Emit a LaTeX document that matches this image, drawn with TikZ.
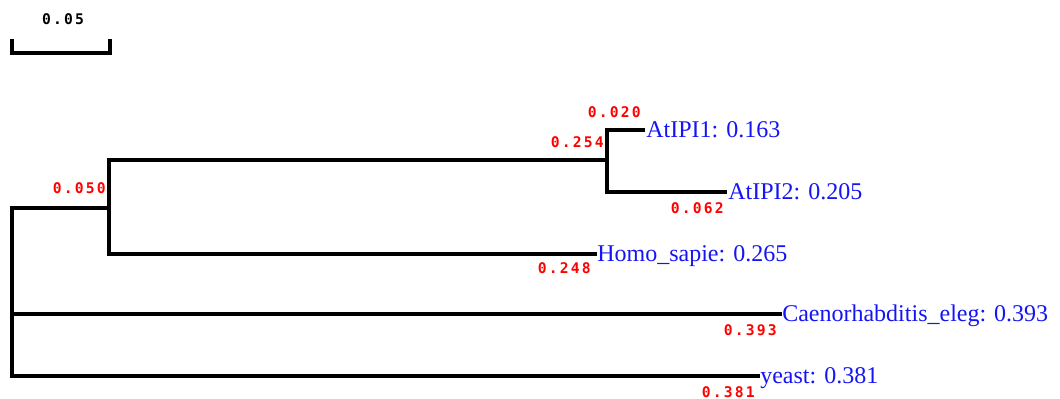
\documentclass[tikz,border=0pt]{standalone}
\usepackage{fontspec}
\setmainfont{Liberation Serif}
\newfontfamily\lenfont[LetterSpace=15]{DejaVu Sans Mono Bold}
\usetikzlibrary{calc}
\definecolor{lenred}{RGB}{255,0,0}
\definecolor{taxblue}{RGB}{20,20,245}
\tikzset{
  branch/.style={line width=2.4pt, line join=miter, black},
  taxon/.style={anchor=base west, inner sep=0pt, text=taxblue,
    font=\fontsize{18}{20}\selectfont},
  blen/.style={anchor=east, inner sep=0pt, text=lenred,
    font=\fontsize{11}{13}\lenfont},
  scalelab/.style={inner sep=0pt, text=black, font=\fontsize{11}{13}\lenfont}
}
\begin{document}
\begin{tikzpicture}[x=0.75pt, y=-0.75pt]
  \useasboundingbox (0,0) rectangle (1060,399);

  % scale bar
  \coordinate (sbL) at (12,39);
  \coordinate (sbR) at (110,39);
  \draw[branch] (sbL) -- (sbL |- 0,53) -- (sbR |- 0,53) -- (sbR);
  \node[scalelab] (sblab) at (63,19.5) {0.05};

  % internal nodes and corners
  \coordinate (rtop) at (12,208);
  \coordinate (rbot) at (12,376);
  \coordinate (nA)    at (109,208);
  \coordinate (nAtop) at (109,160);
  \coordinate (nAbot) at (109,254);
  \coordinate (nB)    at (607,160);
  \coordinate (nBtop) at (607,130);
  \coordinate (nBbot) at (607,192);

  % leaf tips
  \coordinate (leafAt1)   at (645,130);
  \coordinate (leafAt2)   at (727,192);
  \coordinate (leafHomo)  at (597,254);
  \coordinate (leafCel)   at (782,314);
  \coordinate (leafYeast) at (760,376);

  % branches
  \draw[branch] (nA) -- (rtop) -- (rbot) -- (leafYeast);
  \draw[branch] (rtop |- leafCel) -- (leafCel);
  \draw[branch] (leafHomo) -- (nAbot) -- (nAtop) -- (nB);
  \draw[branch] (leafAt2) -- (nBbot) -- (nBtop) -- (leafAt1);

  % taxon labels
  \node[taxon] (tAt1)   at ($(leafAt1)+(1,7.5)$)   {AtIPI1: 0.163};
  \node[taxon] (tAt2)   at ($(leafAt2)+(1,7.5)$)   {AtIPI2: 0.205};
  \node[taxon] (tHomo)  at ($(leafHomo)+(0,7.5)$)  {Homo\_sapie: 0.265};
  \node[taxon] (tCel)   at ($(leafCel)+(0,7.5)$)   {Caenorhabditis\_eleg: 0.393};
  \node[taxon] (tYeast) at ($(leafYeast)+(0,7.5)$) {yeast: 0.381};

  % branch lengths
  \node[blen] (lAt1)   at ($(leafAt1)+(-4,-18)$)  {0.020};
  \node[blen] (lB)     at ($(nB)+(-3,-17.5)$)     {0.254};
  \node[blen] (lAt2)   at ($(leafAt2)+(-3,16.5)$) {0.062};
  \node[blen] (lA)     at ($(nA)+(-3,-19.5)$)     {0.050};
  \node[blen] (lHomo)  at ($(leafHomo)+(-6,14.5)$) {0.248};
  \node[blen] (lCel)   at ($(leafCel)+(-5,16.5)$)  {0.393};
  \node[blen] (lYeast) at ($(leafYeast)+(-5,16)$)  {0.381};
\end{tikzpicture}
\end{document}
